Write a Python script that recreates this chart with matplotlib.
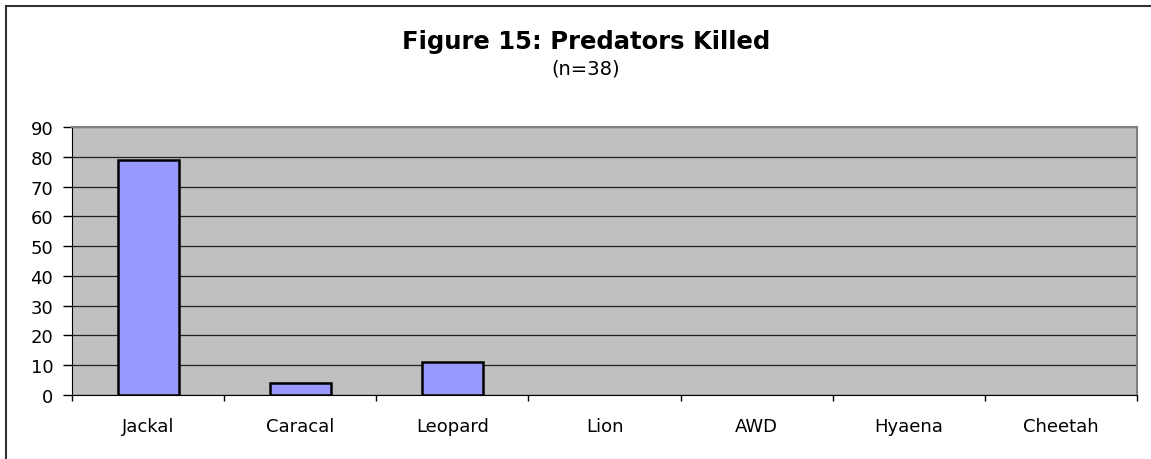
import numpy as np
import matplotlib.pyplot as plt
from matplotlib.patches import Rectangle

# percent of predators killed
predators = ["Jackal", "Caracal", "Leopard", "Lion", "AWD", "Hyaena", "Cheetah"]
killed = [79, 4, 11, 0, 0, 0, 0]
yticks = np.arange(0, 100, 10)

W, H = 1151, 460
plt.rcParams['font.family'] = 'DejaVu Sans'
fig = plt.figure(figsize=(W / 100, H / 100), dpi=100)

# outer frame (only top/left edges fall inside the image)
fig.patches.append(Rectangle((6 / W, -0.1), 1.2, (H - 7) / H + 0.1,
                             transform=fig.transFigure, fill=False,
                             edgecolor='#333333', linewidth=1.5))

left, right, top, bottom = 72, 1137, 128, 396
ax = fig.add_axes([left / W, 1 - bottom / H, (right - left) / W, (bottom - top) / H])
ax.set_facecolor('#c0c0c0')

x = np.arange(len(predators))
bars = ax.bar(x, killed, width=0.4, color='#9999ff', edgecolor='black', linewidth=1.8, zorder=3)
for b, v in zip(bars, killed):
    if v == 0:
        b.set_visible(False)

ax.set_xlim(-0.5, len(predators) - 0.5)
ax.set_ylim(0, 90)
ax.set_yticks(yticks)
ax.set_xticks(x)
ax.set_xticklabels(predators)
ax.set_xticks(np.arange(-0.5, len(predators), 1), minor=True)
ax.tick_params(axis='x', which='major', length=0, pad=16, labelsize=13)
ax.tick_params(axis='x', which='minor', length=4.5, width=1, color='black')
ax.tick_params(axis='y', length=6.5, width=1, labelsize=13, pad=7)
ax.yaxis.grid(True, color='#202020', linewidth=0.9, zorder=1)
ax.set_axisbelow(True)

for side in ['top', 'right']:
    ax.spines[side].set_color('#808080')
    ax.spines[side].set_linewidth(1.5)
ax.spines['left'].set_color('black')
ax.spines['bottom'].set_color('black')

fig.text(586 / W, 1 - 42 / H, "Figure 15: Predators Killed", ha='center', va='center',
         fontsize=17.5, fontweight='bold')
fig.text(586 / W, 1 - 69 / H, "(n=38)", ha='center', va='center', fontsize=14)

fig.savefig("out.png", dpi=100)
